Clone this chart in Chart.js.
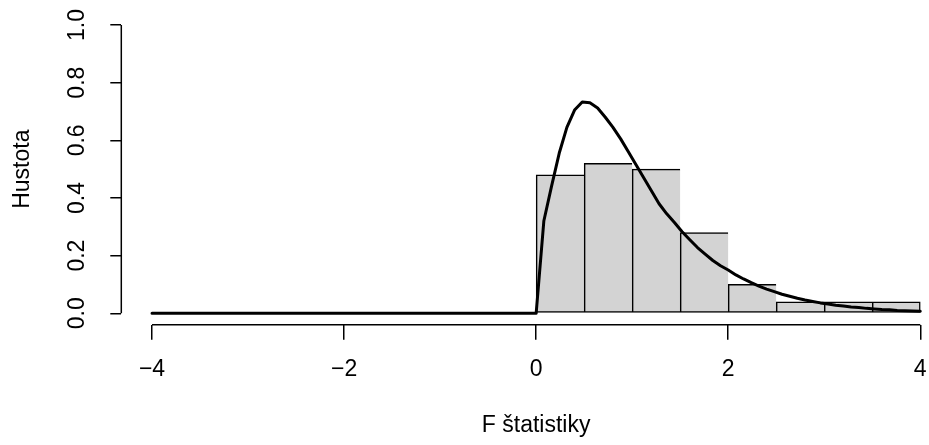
<!DOCTYPE html>
<html>
<head>
<meta charset="utf-8">
<script src="https://cdn.jsdelivr.net/npm/chart.js@4/dist/chart.umd.min.js"></script>
<style>
  html, body { margin: 0; padding: 0; overflow: hidden; background: #fff; }
  canvas { display: block; }
</style>
</head>
<body>
<canvas id="hist" width="951" height="445"></canvas>
<script>
// histogram of the F statistics (bin width 0.5)
const binMids = [0.25, 0.75, 1.25, 1.75, 2.25, 2.75, 3.25, 3.75];
const binDensity = [0.48, 0.52, 0.50, 0.28, 0.10, 0.04, 0.04, 0.04];

// theoretical density drawn over the histogram
const curveX = [-4, 0, 0.08, 0.16, 0.24, 0.32, 0.40, 0.48, 0.56, 0.64, 0.72, 0.80, 0.88, 0.96,
  1.04, 1.12, 1.20, 1.28, 1.36, 1.44, 1.52, 1.60, 1.68, 1.76, 1.84, 1.92, 2.00,
  2.08, 2.16, 2.24, 2.32, 2.40, 2.48, 2.56, 2.64, 2.72, 2.80, 2.88, 2.96,
  3.04, 3.12, 3.20, 3.28, 3.36, 3.44, 3.52, 3.60, 3.68, 3.76, 3.84, 3.92, 4.00];
const curveY = [0, 0, 0.32, 0.44, 0.555, 0.645, 0.705, 0.733, 0.73, 0.712, 0.68, 0.645, 0.605, 0.56,
  0.515, 0.47, 0.425, 0.38, 0.345, 0.315, 0.283, 0.255, 0.228, 0.205, 0.183, 0.165, 0.150,
  0.133, 0.119, 0.106, 0.094, 0.084, 0.075, 0.066, 0.059, 0.052, 0.046, 0.041, 0.036,
  0.032, 0.028, 0.025, 0.022, 0.020, 0.017, 0.015, 0.013, 0.012, 0.010, 0.009, 0.008, 0.007];

const xTicks = [-4, -2, 0, 2, 4];
const yTicks = [0, 0.2, 0.4, 0.6, 0.8, 1.0];

const FONT = '"Liberation Sans", Arial, Helvetica, sans-serif';
const FSIZE = 23;
const lastBin = binMids.length - 1;

// R-style axis lines: only span the first..last tick
const axisLines = {
  id: 'axisLines',
  afterDraw(chart) {
    const { ctx, chartArea, scales: { x, y } } = chart;
    ctx.save();
    ctx.strokeStyle = '#000';
    ctx.lineWidth = 1.5;
    ctx.beginPath();
    ctx.moveTo(x.getPixelForValue(xTicks[0]), chartArea.bottom);
    ctx.lineTo(x.getPixelForValue(xTicks[xTicks.length - 1]), chartArea.bottom);
    ctx.moveTo(chartArea.left, y.getPixelForValue(yTicks[0]));
    ctx.lineTo(chartArea.left, y.getPixelForValue(yTicks[yTicks.length - 1]));
    ctx.stroke();
    ctx.restore();
  }
};

function fixBox(w, h) {
  return scale => {
    if (w !== null) scale.width = w;
    if (h !== null) scale.height = h;
    scale.paddingLeft = scale.paddingRight = 0;
    scale.paddingTop = scale.paddingBottom = 0;
  };
}

new Chart(document.getElementById('hist'), {
  type: 'bar',
  data: {
    datasets: [
      {
        type: 'line',
        order: 0,
        data: curveX.map((x, i) => ({ x: x, y: curveY[i] })),
        borderColor: '#000',
        borderWidth: 3,
        borderCapStyle: 'round',
        borderJoinStyle: 'round',
        pointRadius: 0,
        tension: 0,
        fill: false
      },
      {
        order: 1,
        data: binMids.map((x, i) => ({ x: x, y: binDensity[i] })),
        backgroundColor: '#d3d3d3',
        borderColor: '#000',
        borderWidth: ctx => ({ top: 1.5, bottom: 1.5, left: 1.5, right: ctx.dataIndex === lastBin ? 1.5 : 0 }),
        borderSkipped: false,
        barPercentage: 1,
        categoryPercentage: 1
      }
    ]
  },
  options: {
    responsive: false,
    animation: false,
    devicePixelRatio: 1,
    layout: { padding: { top: 13.5, left: 0, right: 0, bottom: 0 } },
    plugins: {
      legend: { display: false },
      tooltip: { enabled: false }
    },
    scales: {
      x: {
        type: 'linear',
        offset: false,
        min: -4.32,
        max: 4.32,
        afterBuildTicks: s => { s.ticks = xTicks.map(v => ({ value: v })); },
        afterFit: fixBox(null, 120.2),
        ticks: {
          autoSkip: false,
          maxRotation: 0,
          padding: 16,
          color: '#000',
          font: { family: FONT, size: FSIZE },
          callback: v => (v < 0 ? '\u2212' + Math.abs(v) : String(v))
        },
        grid: {
          offset: false,
          drawOnChartArea: false,
          drawTicks: true,
          tickLength: 15,
          color: '#000',
          lineWidth: 1.5
        },
        border: { display: false },
        title: {
          display: true,
          text: 'F štatistiky',
          color: '#000',
          font: { family: FONT, size: FSIZE },
          padding: { top: 0, bottom: 6 }
        }
      },
      y: {
        min: -0.04,
        max: 1.04,
        afterBuildTicks: s => { s.ticks = yTicks.map(v => ({ value: v })); },
        afterFit: fixBox(121.3, null),
        ticks: {
          minRotation: 90,
          maxRotation: 90,
          crossAlign: 'center',
          padding: 17,
          color: '#000',
          font: { family: FONT, size: FSIZE },
          callback: v => v.toFixed(1)
        },
        grid: {
          drawOnChartArea: false,
          drawTicks: true,
          tickLength: 11,
          color: '#000',
          lineWidth: 1.5
        },
        border: { display: false },
        title: {
          display: true,
          text: 'Hustota',
          color: '#000',
          font: { family: FONT, size: FSIZE },
          padding: { top: 9, bottom: 0 }
        }
      }
    }
  },
  plugins: [axisLines]
});
</script>
</body>
</html>
